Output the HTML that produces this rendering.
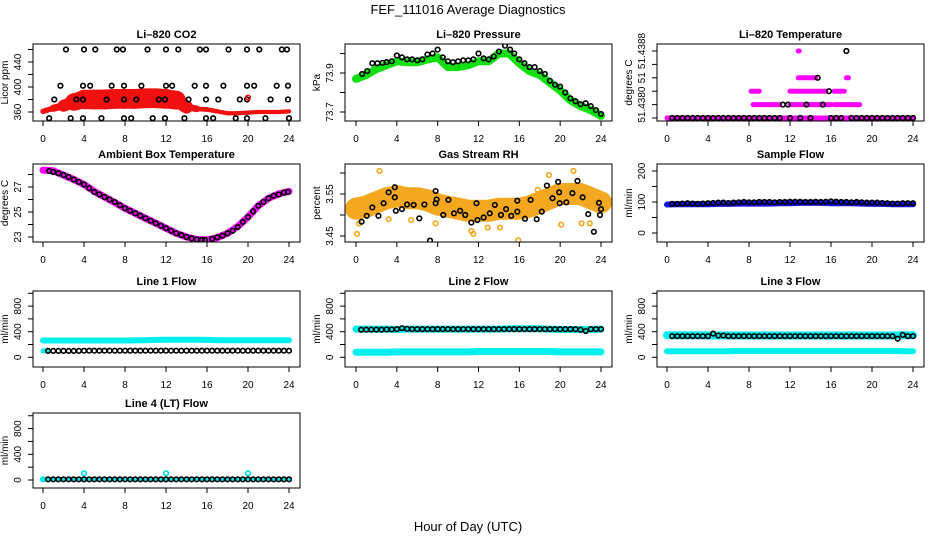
<!DOCTYPE html>
<html><head><meta charset="utf-8"><style>
html,body{margin:0;padding:0;background:#fff;}
svg{display:block;font-family:"Liberation Sans",Arial,sans-serif;}
</style></head><body>
<svg id="fig" width="936" height="540" viewBox="0 0 936 540" xmlns="http://www.w3.org/2000/svg">
<text x="468" y="14" text-anchor="middle" font-size="13">FEF_111016  Average Diagnostics</text>
<text x="468" y="531" text-anchor="middle" font-size="13">Hour of Day (UTC)</text>
</svg>
<script>
const xTicks=[0,4,8,12,16,20,24];
const hourly=[0,1,2,3,4,5,6,7,8,9,10,11,12,13,14,15,16,17,18,19,20,21,22,23,24];
const halfHours=[0.5,1,1.5,2,2.5,3,3.5,4,4.5,5,5.5,6,6.5,7,7.5,8,8.5,9,9.5,10,10.5,11,11.5,12,12.5,13,13.5,14,14.5,15,15.5,16,16.5,17,17.5,18,18.5,19,19.5,20,20.5,21,21.5,22,22.5,23,23.5,24];

// CO2
const co2Center=[361,366,370,376,380,380,380,381,381,381,382,382,381,379,368,365,364,361,358,358,359,360,360,360,361];
const co2Spread=[8,10,14,26,32,33,33,33,33,33,33,33,33,30,14,8,8,7,7,7,7,7,7,7,7];
const co2BlackHours=[2.24,4.0,5.1,7.2,7.8,10.2,12.0,13.2,15.3,15.9,18.1,19.9,21.1,23.3,23.8,1.7,3.9,4.6,6.7,7.9,9.6,12,12.6,14.8,15.9,17.6,19.9,20.6,22.8,23.9,1.1,3.25,3.9,6.2,7.9,9.1,11.3,11.9,14.2,15.9,17.1,19.2,19.9,22.2,23.9,0.6,2.7,3.9,5.7,7.9,8.6,10.7,11.9,13.8,15.9,16.6,18.8,19.9,21.7,24.0];
const co2BlackVals=[460,460,460,460,460,460,460,460,460,460,460,460,460,460,460,402,402,402,402,402,402,402,402,402,402,402,402,402,402,402,380,380,380,380,380,380,380,380,380,380,380,380,380,380,380,350,350,350,350,350,350,350,350,350,350,350,350,350,350,350];
const co2Ticks=[360,380,400,420,440,460];
const co2Labels=["360","","400","","440",""];

// Pressure
const presBand=[73.87,73.89,73.92,73.94,73.96,73.955,73.955,73.97,73.98,73.93,73.93,73.94,73.96,73.96,74.0,74.0,73.95,73.91,73.89,73.85,73.81,73.76,73.73,73.71,73.68];
const presBlackHours=[0.6,1.1,1.6,2.1,2.6,3,3.5,4,4.5,5,5.5,6,6.5,7,7.5,8,8.5,9,9.5,10,10.5,11,11.5,12,12.5,13,13.5,14,14.6,15.1,15.5,16,16.5,17,17.5,18,18.5,19,19.5,20,20.5,21,21.5,22,22.5,23,23.5,24];
const presBlackVals=[73.895,73.91,73.95,73.95,73.952,73.956,73.96,73.99,73.98,73.97,73.97,73.965,73.97,73.995,74.0,74.02,73.98,73.96,73.955,73.96,73.965,73.965,73.97,74.0,73.975,73.97,73.985,74.01,74.04,74.02,74.0,73.97,73.95,73.93,73.93,73.91,73.895,73.86,73.84,73.83,73.8,73.77,73.755,73.74,73.745,73.73,73.71,73.69];
const presTicks=[73.7,73.8,73.9,74.0];
const presLabels=["73.7","","73.9",""];

// Li-820 temperature (discrete levels)
const tempSegStart=[0,8.4,12,16.3,8.2,12.0,16.3,12.8,17.5,12.8];
const tempSegEnd=[24,11,16,18.8,9.0,15.5,17.3,14.5,17.7,12.9];
const tempSegVal=[51.43800,51.43816,51.43816,51.43816,51.43832,51.43832,51.43832,51.43848,51.43848,51.43880];
const tempBlackHours=[0.5,1,1.5,2,2.5,3,3.5,4,4.5,5,5.5,6,6.5,7,7.5,8,8.5,9,9.5,10,10.5,11,12,13,14,16,16.5,17,18,18.5,19,19.5,20,20.5,21,21.5,22,22.5,23,23.5,24,11.3,11.8,13.6,15.2,15.8,14.7,17.5];
const tempBlackVals=[51.438,51.438,51.438,51.438,51.438,51.438,51.438,51.438,51.438,51.438,51.438,51.438,51.438,51.438,51.438,51.438,51.438,51.438,51.438,51.438,51.438,51.438,51.438,51.438,51.438,51.438,51.438,51.438,51.438,51.438,51.438,51.438,51.438,51.438,51.438,51.438,51.438,51.438,51.438,51.438,51.438,51.43816,51.43816,51.43816,51.43816,51.43832,51.43848,51.4388];
const tempTicks=[51.43800,51.43816,51.43832,51.43848,51.43864,51.43880];
const tempLabels=["","51.4380","","51","","51.4388"];

// Ambient
const ambBand=[28.35,28.3,27.95,27.6,27.2,26.65,26.2,25.75,25.3,24.9,24.5,24.1,23.7,23.3,23.0,22.8,22.76,22.95,23.3,23.85,24.6,25.5,26.1,26.45,26.65];
const ambBlackHours=[0.6,1,1.5,2,2.5,3,3.5,4,4.5,5,5.5,6,6.5,7,7.5,8,8.5,9,9.5,10,10.5,11,11.5,12,12.5,13,13.5,14,14.5,15,15.5,15.8,16.5,17,17.5,18,18.5,19,19.5,20,20.5,21,21.5,22,22.5,23,23.5,23.9];
const ambBlackVals=[28.28,28.2,28.1,27.96,27.8,27.6,27.4,27.2,26.9,26.6,26.4,26.2,26.0,25.8,25.55,25.3,25.1,24.9,24.7,24.5,24.3,24.1,23.9,23.7,23.5,23.3,23.15,23.0,22.9,22.8,22.77,22.76,22.85,22.98,23.1,23.3,23.5,23.8,24.2,24.6,25.05,25.5,25.8,26.1,26.3,26.4,26.55,26.6];
const ambTicks=[23,24,25,26,27,28];
const ambLabels=["23","","25","","27",""];

// RH
const rhBand=[3.515,3.52,3.53,3.54,3.545,3.54,3.54,3.535,3.525,3.52,3.515,3.51,3.51,3.51,3.515,3.515,3.515,3.52,3.53,3.54,3.55,3.55,3.55,3.54,3.53];
const rhBlackHours=[0.55,1.05,1.6,2.2,2.7,3.2,3.8,3.8,3.9,4.5,5.0,5.65,6.2,6.7,7.25,7.8,7.9,7.8,8.55,9.05,9.6,10.2,10.7,11.3,11.8,11.9,12.5,13.1,13.6,14.2,14.7,15.2,15.8,15.8,16.55,17.1,17.7,18.2,18.7,19.25,19.8,19.9,19.95,20.6,21.2,21.7,22.2,22.75,23.3,23.8,23.9,24.0];
const rhBlackVals=[3.484,3.498,3.518,3.498,3.528,3.554,3.566,3.542,3.510,3.514,3.525,3.524,3.492,3.525,3.439,3.528,3.537,3.557,3.50,3.536,3.504,3.510,3.50,3.482,3.528,3.488,3.494,3.504,3.524,3.50,3.514,3.498,3.508,3.534,3.491,3.536,3.490,3.508,3.570,3.540,3.579,3.554,3.528,3.530,3.552,3.581,3.542,3.502,3.460,3.529,3.50,3.514];
const rhOutHours=[0.1,0.3,2.3,3.2,5.4,7.8,11.3,11.5,12.9,14.1,15.9,17.8,20.1,22.1,22.9,21.3,18.9];
const rhOutVals=[3.455,3.48,3.605,3.49,3.488,3.48,3.462,3.455,3.47,3.47,3.44,3.56,3.477,3.48,3.48,3.605,3.595];
const rhTicks=[3.45,3.50,3.55,3.60];
const rhLabels=["3.45","","3.55",""];

// Sample flow
const sampleBand=[92,93,93,93,93,94,94,95,95,95,95,96,96,97,97,97,96,96,96,95,94,94,93,93,93];
const sampleBlack=[94,94,95,96,95,94,95,96,97,98,98,97,98,99,100,99,99,100,100,100,99,100,100,101,101,101,100,100,101,100,101,102,101,100,100,99,100,99,98,98,98,97,96,95,95,96,96,96];
const sampleTicks=[0,50,100,150,200];
const sampleLabels=["0","","100","","200"];

// Line flows
const flowTicks=[0,200,400,600,800,1000];
const flowLabels=["0","","400","","800",""];
const line1BandA=[262,262,262,262,262,262,262,262,262,264,266,272,274,274,274,274,272,266,266,266,266,266,266,266,266];
const line1Black=[100,100,100,100,100,100,100,103,103,103,103,103,103,103,103,103,103,103,103,103,103,103,103,103,103,103,103,103,103,103,103,103,103,103,103,103,103,103,103,103,103,103,103,103,103,103,103,103];
const line2BandA=[440,440,440,440,435,440,440,440,440,440,440,440,440,440,440,445,445,445,445,440,435,435,435,435,440];
const line2BandB=[80,80,80,80,85,85,85,85,85,85,85,85,90,90,90,90,90,90,90,90,85,85,85,85,85];
const line2Black=[430,432,432,432,432,435,435,440,455,445,440,440,440,440,440,440,440,440,440,440,440,440,440,440,440,440,440,440,440,440,440,440,440,440,440,440,440,440,440,440,440,440,440,430,410,440,440,440];
const line3BandA=[345,345,345,345,340,340,340,340,340,340,340,340,340,340,340,340,340,340,340,340,340,340,340,345,345];
const line3BandB=[95,95,95,95,95,95,95,100,100,100,100,100,100,100,100,100,100,100,100,100,100,100,100,95,95];
const line3Black=[330,330,330,330,330,330,330,330,370,340,340,330,330,330,330,330,330,330,330,330,330,330,330,330,330,330,330,330,330,330,330,330,330,330,330,330,330,330,330,330,330,330,330,330,290,350,330,330];
const line4BandA=[10,10,10,10,10,10,10,10,10,10,10,10,10,10,10,10,10,10,10,10,10,10,10,10,10];
const line4Black=[10,10,10,10,10,10,10,10,10,10,10,10,10,10,10,10,10,10,10,10,10,10,10,10,10,10,10,10,10,10,10,10,10,10,10,10,10,10,10,10,10,10,10,10,10,10,10,10];
const line4OutHours=[0,4,12,20];
const line4OutVals=[10,105,105,105];

const NS='http://www.w3.org/2000/svg';
const svg=document.getElementById('fig');
function mk(tag,attrs,parent){const e=document.createElementNS(NS,tag);for(const k in attrs)e.setAttribute(k,attrs[k]);(parent||svg).appendChild(e);return e;}

const colX0=[43,356,667], colX24=[289,601,913], colL=[33,345,657], colR=[300,612,924];
const rowT=[44,164,291,413], rowB=[121,242,367,488];
let clipN=0;

function panel(name,col,row,title,ylab,a,ticks,labels){
  const g=mk('g',{});
  
  
  const sx=h=>colX0[col]+(colX24[col]-colX0[col])*h/24;
  const sy=v=>a[1]+(v-a[0])*(a[3]-a[1])/(a[2]-a[0]);
  const L=colL[col],R=colR[col],T=rowT[row],B=rowB[row];
  const t=mk('text',{x:(L+R)/2,y:T-6,'text-anchor':'middle','font-size':11,'font-weight':'bold'},g);
  t.textContent=title;
  
  
  const xl=mk('g',{},g);
  
  
  xTicks.forEach(h=>{
    mk('line',{x1:sx(h),x2:sx(h),y1:B,y2:B+5,stroke:'#000','stroke-width':1},xl);
    const tx=mk('text',{x:sx(h),y:B+21,'text-anchor':'middle','font-size':10},xl);
    tx.textContent=String(h);
  });
  const yl=mk('g',{},g);
  
  
  ticks.forEach((v,i)=>{
    const y=sy(v);
    mk('line',{x1:L-5,x2:L,y1:y,y2:y,stroke:'#000'},yl);
    if(labels[i]){const ty=mk('text',{x:L-12,y:y,'text-anchor':'middle','font-size':10,transform:`rotate(-90 ${L-12} ${y})`},yl);ty.textContent=labels[i];}
  });
  const yt=mk('text',{x:L-25,y:(T+B)/2,'text-anchor':'middle','font-size':10,transform:`rotate(-90 ${L-25} ${(T+B)/2})`},g);
  yt.textContent=ylab;
  
  
  const cid='clip'+(clipN++);
  const cp=mk('clipPath',{id:cid},g);
  mk('rect',{x:L,y:T,width:R-L,height:B-T},cp);
  const plot=mk('g',{'clip-path':`url(#${cid})`},g);
  
  
  const box=mk('rect',{x:L,y:T,width:R-L,height:B-T,fill:'none',stroke:'#000','stroke-width':1});
  
  
  return {sx,sy,plot};
}
function band(p,hours,vals,color,width,name){
  const pts=hours.map((h,i)=>p.sx(h).toFixed(1)+','+p.sy(vals[i]).toFixed(1)).join(' ');
  const pl=mk('polyline',{points:pts,fill:'none',stroke:color,'stroke-width':width,'stroke-linejoin':'round','stroke-linecap':'round'},p.plot);
  
  
}
function circles(p,hours,vals,color,name,r){
  const g=mk('g',{},p.plot);
  
  
  hours.forEach((h,i)=>{mk('circle',{cx:p.sx(h),cy:p.sy(vals[i]),r:r||2.3,fill:'none',stroke:color,'stroke-width':1.6},g);});
}

// CO2
let p=panel('co2',0,0,'Li\u2013820 CO2','Licor ppm',[360,112,440,62],co2Ticks,co2Labels);
for(let i=0;i<hourly.length-1;i++){
  const w=(co2Spread[i]+co2Spread[i+1])/2*0.6;
  const s=mk('line',{x1:p.sx(hourly[i]),y1:p.sy(co2Center[i]),x2:p.sx(hourly[i+1]),y2:p.sy(co2Center[i+1]),stroke:'#f01010','stroke-width':w,'stroke-linecap':'round'},p.plot);
  
  
}
circles(p,co2BlackHours,co2BlackVals,'#000','co2-average-points');
circles(p,[20],[383],'#f01010','co2-outlier');

// Pressure
p=panel('pressure',1,0,'Li\u2013820 Pressure','kPa',[73.7,112,73.9,73],presTicks,presLabels);
band(p,hourly,presBand,'#10e010',8,'pressure-band');
circles(p,presBlackHours,presBlackVals,'#000','pressure-average-points');

// Temperature
p=panel('li820-temp',2,0,'Li\u2013820 Temperature','degrees C',[51.438,118,51.4388,51],tempTicks,tempLabels);
tempSegStart.forEach((s,i)=>{
  const ln=mk('line',{x1:p.sx(s),x2:p.sx(tempSegEnd[i]),y1:p.sy(tempSegVal[i]),y2:p.sy(tempSegVal[i]),stroke:'#ff00ff','stroke-width':5,'stroke-linecap':'round'},p.plot);
  
  
});
circles(p,tempBlackHours,tempBlackVals,'#000','temp-average-points');

// Ambient
p=panel('ambient',0,1,'Ambient Box Temperature','degrees C',[23,237,27,187],ambTicks,ambLabels);
band(p,hourly,ambBand,'#ff00ff',7,'ambient-band');
circles(p,ambBlackHours,ambBlackVals,'#000','ambient-average-points');

// RH
p=panel('rh',1,1,'Gas Stream RH','percent',[3.45,236,3.55,194],rhTicks,rhLabels);
band(p,hourly,rhBand,'#f4a820',22,'rh-band');
circles(p,rhOutHours,rhOutVals,'#f4a820','rh-outliers');
circles(p,rhBlackHours,rhBlackVals,'#000','rh-average-points');

// Sample flow
p=panel('sample-flow',2,1,'Sample Flow','ml/min',[0,233,200,171],sampleTicks,sampleLabels);
band(p,hourly,sampleBand,'#1010f0',6,'sample-flow-band');
circles(p,halfHours,sampleBlack,'#000','sample-flow-average-points');

// Line 1
p=panel('line1-flow',0,2,'Line 1 Flow','ml/min',[0,357.3,400,331.7],flowTicks,flowLabels);
band(p,hourly,line1BandA,'#00f0f0',6,'line1-band');
band(p,[0,0.5],[100,100],'#00f0f0',5,'line1-band-low');
circles(p,halfHours,line1Black,'#000','line1-average-points');

// Line 2
p=panel('line2-flow',1,2,'Line 2 Flow','ml/min',[0,357.3,400,331.7],flowTicks,flowLabels);
band(p,hourly,line2BandA,'#00f0f0',7,'line2-band-high');
band(p,hourly,line2BandB,'#00f0f0',7,'line2-band-low');
circles(p,halfHours,line2Black,'#000','line2-average-points');

// Line 3
p=panel('line3-flow',2,2,'Line 3 Flow','ml/min',[0,357.3,400,331.7],flowTicks,flowLabels);
band(p,hourly,line3BandA,'#00f0f0',8,'line3-band-high');
band(p,hourly,line3BandB,'#00f0f0',6,'line3-band-low');
circles(p,halfHours,line3Black,'#000','line3-average-points');

// Line 4
p=panel('line4-flow',0,3,'Line 4 (LT) Flow','ml/min',[0,480,400,454.3],flowTicks,flowLabels);
band(p,hourly,line4BandA,'#00f0f0',4,'line4-band');
circles(p,line4OutHours,line4OutVals,'#00e0e0','line4-outliers');
circles(p,halfHours,line4Black,'#000','line4-average-points');
</script>
</body></html>
